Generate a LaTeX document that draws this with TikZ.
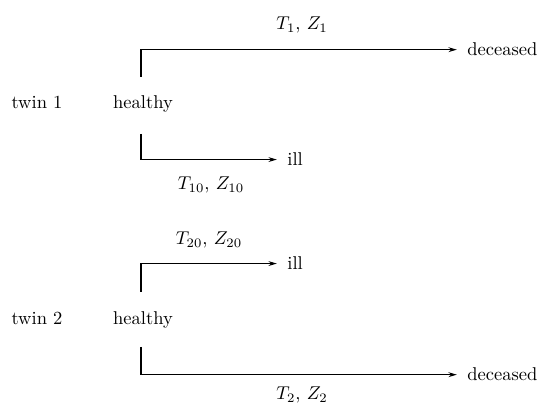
\documentclass[tikz,border=0pt]{standalone}
\usetikzlibrary{arrows.meta}
\begin{document}
\begin{tikzpicture}[x=0.54pt,y=-0.54pt,
  lbl/.style={inner sep=0pt, anchor=base},
  statebox/.style={inner sep=0pt, anchor=base west},
  arr/.style={line width=0.6pt, -{Stealth[length=4.5pt,width=2.6pt]}, shorten >=5.5pt}]
\useasboundingbox (0,0) rectangle (538,403);
% twin 1
\node[lbl] (tw1) at (37,109) {twin 1};
\node[lbl] (h1) at (143,109) {healthy};
\node[statebox] (d1) at (467,56) {deceased};
\node[statebox] (i1) at (287,166) {ill};
\coordinate (s1) at (141,77);
\coordinate (s2) at (141,134);
\draw[arr] (s1) |- (d1.west);
\draw[arr] (s2) |- (i1.west);
\node[lbl] (l1) at (302,30) {$T_1$, $Z_1$};
\node[lbl] (l10) at (211,190) {$T_{10}$, $Z_{10}$};
% twin 2
\node[lbl] (tw2) at (37,325) {twin 2};
\node[lbl] (h2) at (143,325) {healthy};
\node[statebox] (i2) at (287,270) {ill};
\node[statebox] (d2) at (467,381) {deceased};
\coordinate (s3) at (141,292);
\coordinate (s4) at (141,347);
\draw[arr] (s3) |- (i2.west);
\draw[arr] (s4) |- (d2.west);
\node[lbl] (l20) at (209,245) {$T_{20}$, $Z_{20}$};
\node[lbl] (l2) at (302,400) {$T_2$, $Z_2$};
\end{tikzpicture}
\end{document}
